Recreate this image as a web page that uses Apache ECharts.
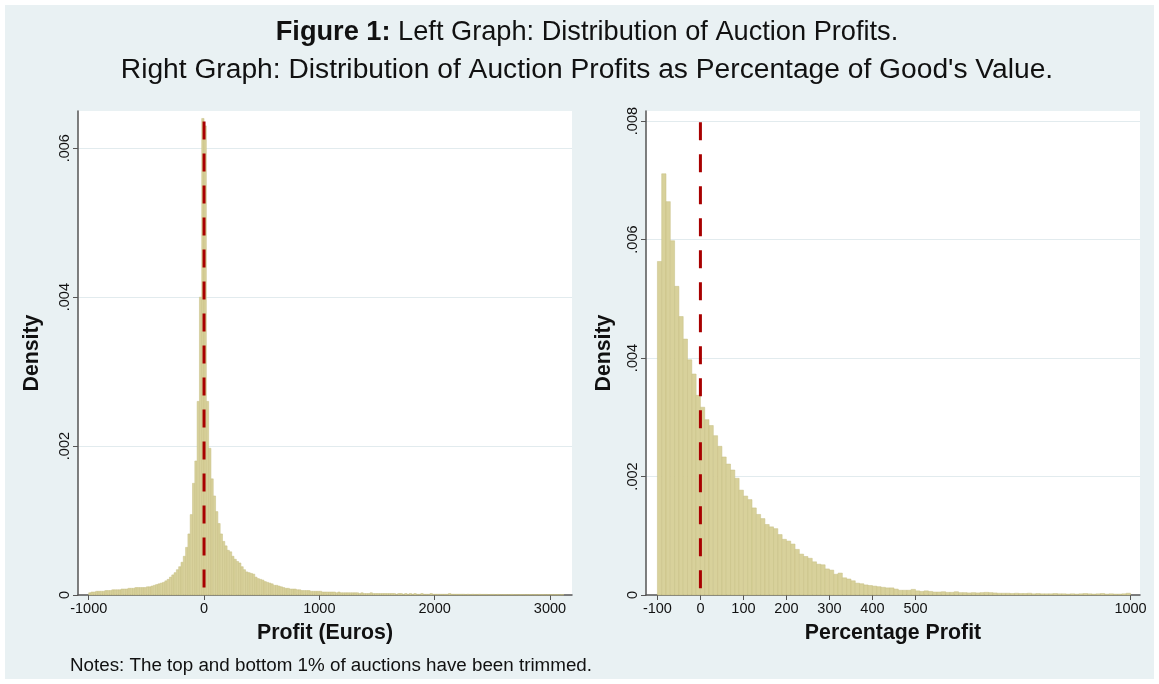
<!DOCTYPE html>
<html>
<head>
<meta charset="utf-8">
<title>Figure 1</title>
<script src="https://cdn.jsdelivr.net/npm/echarts@6/dist/echarts.min.js"></script>
<style>
html, body { margin: 0; padding: 0; background: #fff; }
#main {
  position: absolute;
  left: 5px;
  top: 5px;
  width: 1149px;
  height: 674px;
  background: #e9f1f3;
}
</style>
</head>
<body>
<div id="main"></div>
<script>
// left graph: auction profit in euros, 20-euro bins from -1000
const profitBinStart = -1000;
const profitBinWidth = 20;
const profitDensity = [
  0.00003, 0.00004, 0.00004, 0.00005, 0.00005, 0.00005, 0.00005, 0.00006, 0.00006, 0.00006,
  0.00007, 0.00007, 0.00007, 0.00007, 0.00008, 0.00008, 0.00008, 0.00009, 0.00009, 0.00009,
  0.0001, 0.0001, 0.0001, 0.0001, 0.0001, 0.00011, 0.00011, 0.00012, 0.00013, 0.00014,
  0.00015, 0.00016, 0.00017, 0.00019, 0.00021, 0.00024, 0.00027, 0.0003, 0.00034, 0.00038,
  0.00044, 0.00052, 0.00064, 0.00082, 0.00108, 0.0015, 0.0018, 0.0026, 0.004, 0.0064,
  0.0063, 0.0026, 0.00197, 0.00156, 0.00133, 0.00112, 0.00096, 0.00082, 0.00072, 0.00066,
  0.0006, 0.00058, 0.00052, 0.00048, 0.00045, 0.00043, 0.00038, 0.00034, 0.00031, 0.0003,
  0.00029, 0.00028, 0.00024, 0.00022, 0.00021, 0.0002, 0.00018, 0.00017, 0.00016, 0.00015,
  0.00013, 0.00013, 0.00012, 0.00011, 0.0001, 0.00009, 0.00009, 0.00008, 0.00008, 0.00008,
  0.00007, 0.00007, 0.00006, 0.00006, 0.00006, 0.00006, 0.00005, 0.00005, 0.00005, 0.00005,
  0.00005, 0.00004, 0.00004, 0.00004, 0.00004, 0.00004, 0.00004, 0.00003, 0.00004, 0.00003,
  0.00003, 0.00003, 0.00003, 0.00003, 0.00003, 0.00003, 0.00003, 0.00002, 0.00003, 0.00002,
  0.00002, 0.00002, 0.00003, 0.00002, 0.00002, 0.00002, 0.00002, 0.00002, 0.00002, 0.00002,
  0.00002, 0.00002, 0.00002, 0.00001, 0.00002, 0.00002, 0.00001, 0.00002, 0.00001, 0.00002,
  0.00001, 0.00002, 0.00001, 0.00001, 0.00002, 0.00001, 0.00001, 0.00001, 0.00002, 0.00001,
  0.00001, 0.00001, 0.00001, 0.00001, 0.00001, 0.00001, 0.00002, 0.00001, 0.00001, 0.00001,
  0.00001, 0.00001, 0.00001, 0.000008, 0.00001, 0.000008, 0.00001, 0.000008, 0.000008, 0.00001,
  0.000008, 0.000008, 0.000008, 0.000006, 0.000008, 0.000008, 0.000006, 0.000008, 0.000006, 0.000006,
  0.000006, 0.000006, 0.000006, 0.000008, 0.000006, 0.000006, 0.000005, 0.000006, 0.000006, 0.000005,
  0.000005, 0.000006, 0.000005, 0.000005, 0.000005, 0.000006, 0.000005, 0.000005, 0.000004, 0.000005,
  0.000005, 0.000004, 0.000005, 0.000004, 0.000004, 0.000005
];

// right graph: profit as % of good's value, 10-point bins from -100
const pctBinStart = -100;
const pctBinWidth = 10;
const pctDensity = [
  0.00563, 0.00711, 0.00664, 0.00598, 0.00521, 0.0047, 0.00432, 0.00397, 0.00373, 0.00337,
  0.00317, 0.00296, 0.00286, 0.00269, 0.00251, 0.00233, 0.00221, 0.00211, 0.00197, 0.00177,
  0.00167, 0.00161, 0.00147, 0.00136, 0.00129, 0.00119, 0.00115, 0.00112, 0.00102, 0.00094,
  0.00091, 0.00086, 0.00077, 0.00069, 0.00065, 0.00062, 0.00056, 0.00052, 0.00051, 0.00044,
  0.00042, 0.00035, 0.00037, 0.00029, 0.00027, 0.00024, 0.0002, 0.00019, 0.00017, 0.00016,
  0.00015, 0.00014, 0.00013, 0.00012, 0.00012, 0.0001, 0.00008, 0.00008, 0.00008, 0.000095,
  0.00007, 0.00006, 0.00007, 0.00006, 0.00005, 0.00005, 0.000055, 0.000045, 0.000045, 0.000055,
  0.00004, 0.00004, 0.000035, 0.00004, 0.000035, 0.00004, 0.000045, 0.00004, 0.000035, 0.00003,
  0.00003, 0.00003, 0.000025, 0.00003, 0.000025, 0.000025, 0.00003, 0.00002, 0.000025, 0.00002,
  0.00002, 0.00002, 0.000025, 0.00002, 0.00002, 0.000015, 0.00002, 0.000015, 0.00002, 0.000025,
  0.00002, 0.000015, 0.00002, 0.000025, 0.000015, 0.00002, 0.000015, 0.000015, 0.00002, 0.00003
];

// tick labels
const profitTicks = [-1000, 0, 1000, 2000, 3000];
const pctTicks = [-100, 0, 100, 200, 300, 400, 500, 1000];
const profitDensityTicks = [0, 0.002, 0.004, 0.006];
const pctDensityTicks = [0, 0.002, 0.004, 0.006, 0.008];

// vertical reference line at zero, its top in density units
const profitZeroTop = 0.00636;
const pctZeroTop = 0.00798;

const FONT = "'Liberation Sans', Arial, sans-serif";
const barFill = "#d8d19b";
const barEdge = "#c6be83";
const axisColor = "#555";
const gridColor = "#e2ebee";

const toBins = (start, width, values) =>
  values.map((v, i) => [start + i * width, start + (i + 1) * width, v]);

const densityLabel = (v) => (v === 0 ? "0" : v.toFixed(3).replace(/^0/, ""));

const renderBin = (params, api) => {
  const x0 = api.value(0);
  const x1 = api.value(1);
  const y = api.value(2);
  const p0 = api.coord([x0, y]);
  const p1 = api.coord([x1, 0]);
  return {
    type: "rect",
    shape: { x: p0[0], y: p0[1], width: p1[0] - p0[0], height: p1[1] - p0[1] },
    style: { fill: barFill, stroke: barEdge, lineWidth: 0.5 }
  };
};

const nameStyle = { fontFamily: FONT, fontSize: 21.3, fontWeight: "bold", color: "#111" };

const xAxisBase = (ticks) => ({
  type: "value",
  nameLocation: "middle",
  nameGap: 28,
  nameTextStyle: nameStyle,
  axisLine: { show: true, onZero: false, lineStyle: { color: axisColor, width: 1.5 } },
  axisTick: { show: true, length: 5, customValues: ticks, lineStyle: { color: axisColor } },
  axisLabel: {
    customValues: ticks,
    fontFamily: FONT,
    fontSize: 14.5,
    color: "#111",
    margin: 6,
    formatter: (v) => String(v)
  },
  splitLine: { show: false }
});

const yAxisBase = (ticks, max) => ({
  type: "value",
  min: 0,
  max: max,
  interval: 0.002,
  name: "Density",
  nameLocation: "middle",
  nameGap: 35,
  nameTextStyle: nameStyle,
  axisLine: { show: true, onZero: false, lineStyle: { color: axisColor, width: 1.5 } },
  axisTick: { show: true, length: 5, customValues: ticks, lineStyle: { color: axisColor } },
  axisLabel: {
    customValues: ticks,
    rotate: 90,
    fontFamily: FONT,
    fontSize: 14.5,
    color: "#111",
    margin: 6,
    formatter: densityLabel
  },
  splitLine: { show: true, lineStyle: { color: gridColor, width: 1 } }
});

const chart = echarts.init(document.getElementById("main"), null, { renderer: "canvas" });

const option = {
  backgroundColor: "transparent",
  animation: false,
  graphic: [
    {
      type: "text",
      x: 582,
      y: 28,
      style: {
        text: "{b|Figure 1:} Left Graph: Distribution of Auction Profits.",
        align: "center",
        verticalAlign: "middle",
        fontFamily: FONT,
        fontSize: 27.2,
        fill: "#111",
        rich: { b: { fontFamily: FONT, fontSize: 27.2, fontWeight: "bold", fill: "#111" } }
      }
    },
    {
      type: "text",
      x: 582,
      y: 65,
      style: {
        text: "Right Graph: Distribution of Auction Profits as Percentage of Good's Value.",
        align: "center",
        verticalAlign: "middle",
        fontFamily: FONT,
        fontSize: 28.2,
        fill: "#111"
      }
    },
    {
      type: "text",
      x: 65,
      y: 661,
      style: {
        text: "Notes: The top and bottom 1% of auctions have been trimmed.",
        align: "left",
        verticalAlign: "middle",
        fontFamily: FONT,
        fontSize: 18.8,
        fill: "#111"
      }
    }
  ],
  grid: [
    { left: 73, top: 106, width: 494, height: 484, show: true, backgroundColor: "#fff", borderWidth: 0 },
    { left: 641, top: 106, width: 494, height: 484, show: true, backgroundColor: "#fff", borderWidth: 0 }
  ],
  xAxis: [
    Object.assign(xAxisBase(profitTicks), { gridIndex: 0, min: -1093, max: 3191, name: "Profit (Euros)" }),
    Object.assign(xAxisBase(pctTicks), { gridIndex: 1, min: -126.5, max: 1022, name: "Percentage Profit" })
  ],
  yAxis: [
    Object.assign(yAxisBase(profitDensityTicks, 0.0065), { gridIndex: 0 }),
    Object.assign(yAxisBase(pctDensityTicks, 0.00817), { gridIndex: 1, nameGap: 31 })
  ],
  series: [
    {
      type: "custom",
      xAxisIndex: 0,
      yAxisIndex: 0,
      renderItem: renderBin,
      encode: { x: [0, 1], y: 2 },
      data: toBins(profitBinStart, profitBinWidth, profitDensity),
      z: 2
    },
    {
      type: "custom",
      xAxisIndex: 1,
      yAxisIndex: 1,
      renderItem: renderBin,
      encode: { x: [0, 1], y: 2 },
      data: toBins(pctBinStart, pctBinWidth, pctDensity),
      z: 2
    },
    {
      type: "line",
      xAxisIndex: 0,
      yAxisIndex: 0,
      data: [[0, profitZeroTop], [0, 0]],
      symbol: "none",
      lineStyle: { color: "#a80000", width: 3, type: [18, 14] },
      z: 5
    },
    {
      type: "line",
      xAxisIndex: 1,
      yAxisIndex: 1,
      data: [[0, pctZeroTop], [0, 0]],
      symbol: "none",
      lineStyle: { color: "#a80000", width: 3, type: [18, 14] },
      z: 5
    }
  ]
};

chart.setOption(option);
</script>
</body>
</html>
